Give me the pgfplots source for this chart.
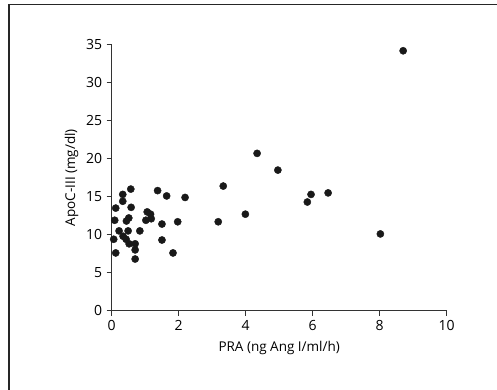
\documentclass[border=0pt]{standalone}
\usepackage{pgfplots}
\pgfplotsset{compat=1.18}
\usepackage{fontspec}
\setmainfont{Open Sans}
\definecolor{axgray}{HTML}{333333}
\begin{document}
\begin{tikzpicture}[x=1pt,y=1pt]
\path[use as bounding box] (0,0) rectangle (497,390);
\draw[line width=1.2pt, color=black!85] (9,0) -- (9,385.7) -- (497,385.7);
\begin{axis}[
  at={(111.7pt,79.3pt)}, anchor=south west,
  scale only axis, width=335pt, height=266pt,
  xmin=0, xmax=10, ymin=0, ymax=35,
  axis x line=bottom, axis y line=left,
  axis line style={-, color=axgray, line width=0.8pt},
  xtick={0,2,4,6,8,10}, ytick={0,5,10,15,20,25,30,35},
  tick align=outside, major tick length=5pt,
  tick style={color=axgray, line width=0.8pt},
  tick label style={font=\fontsize{14}{16}\selectfont, color=black},
  xticklabel style={yshift=-1pt},
  yticklabel style={xshift=-1pt},
  /pgf/number format/assume math mode=true,
  xlabel={PRA (ng Ang I/ml/h)}, ylabel={ApoC-III (mg/dl)},
  label style={font=\fontsize{13.5}{15}\selectfont, color=black},
  xlabel style={yshift=-4pt},
  ylabel style={yshift=1pt},
  clip=false,
]
\addplot[only marks, mark=*, mark size=3.6pt, color=black!90] table {
x y
0.33 15.3
0.57 16.0
0.33 14.4
0.12 13.5
0.58 13.6
0.09 11.9
0.44 11.8
0.51 12.2
0.22 10.5
0.49 10.5
0.06 9.4
0.34 9.8
0.43 9.4
0.52 8.8
0.70 8.8
0.70 8.0
0.12 7.6
0.70 6.8
0.84 10.5
1.37 15.8
1.64 15.1
2.19 14.9
3.33 16.4
1.06 13.0
1.16 12.7
1.02 11.9
1.18 12.1
1.50 11.4
1.97 11.7
3.18 11.7
1.50 9.3
1.83 7.6
4.34 20.7
4.96 18.5
3.99 12.7
5.84 14.3
5.95 15.3
6.46 15.5
8.02 10.1
8.70 34.2
};
\end{axis}
\end{tikzpicture}
\end{document}
